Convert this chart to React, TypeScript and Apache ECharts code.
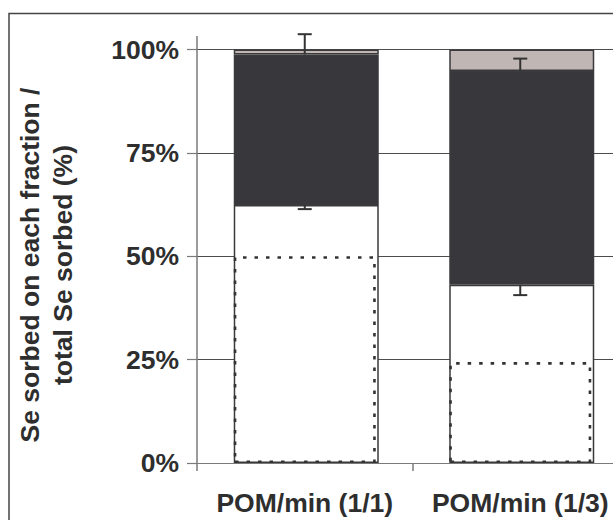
import React, { useEffect, useRef } from "react";
import * as echarts from "echarts";

const categories = ["POM/min (1/1)", "POM/min (1/3)"];
const mineralShare = [62.4, 43.1];
const pomShare = [36.4, 51.7];
const remainderShare = [1.2, 5.2];
const mineralErrMinus = [1.0, 2.5];
const pomErrPlus = [4.9, 3.0];
const expectedMineral = [50, 24.4];
const yMin = 0;
const yMax = 100;
const yStep = 25;
const axisTitle = ["Se sorbed on each fraction /", "total Se sorbed (%)"];

const FONT = "'Liberation Sans', Arial, Helvetica, sans-serif";
const TEXT = "#2e2e2e";
const AXIS = "#7a7a7a";
const EDGE = "#3a3a3c";

export default function App() {
  const ref = useRef<HTMLDivElement>(null);

  useEffect(() => {
    if (!ref.current) return;
    const chart = echarts.init(ref.current, undefined, { renderer: "svg" });

    const errData: number[][] = [];
    categories.forEach((_, i) => {
      const wTop = mineralShare[i];
      errData.push([i, wTop, wTop - mineralErrMinus[i]]);
      const dTop = mineralShare[i] + pomShare[i];
      errData.push([i, dTop, dTop + pomErrPlus[i]]);
    });

    const barW = 145;

    chart.setOption({
      animation: false,
      grid: {
        left: 197,
        top: 49.5,
        width: 431,
        height: 413.5,
        outerBoundsMode: "none",
        containLabel: false,
      },
      xAxis: {
        type: "category",
        data: categories,
        boundaryGap: true,
        axisLine: { show: true, lineStyle: { color: AXIS, width: 1.2 } },
        axisTick: { show: true, length: 8, lineStyle: { color: AXIS, width: 1.5 } },
        axisLabel: {
          interval: 0,
          margin: 26,
          color: TEXT,
          fontFamily: FONT,
          fontWeight: "bold",
          fontSize: 26.5,
          hideOverlap: false,
        },
        splitLine: { show: false },
      },
      yAxis: {
        type: "value",
        min: yMin,
        max: yMax,
        interval: yStep,
        axisLine: { show: true, lineStyle: { color: AXIS, width: 1.5 } },
        axisTick: { show: true, length: 10, lineStyle: { color: AXIS, width: 1.2 } },
        axisLabel: {
          margin: 18,
          color: TEXT,
          fontFamily: FONT,
          fontWeight: "bold",
          fontSize: 26.5,
          formatter: (v: number) => `${v}%`,
        },
        splitLine: { show: true, lineStyle: { color: "#4d4d4d", width: 1 } },
      },
      graphic: [
        {
          type: "rect",
          shape: { x: 9, y: 13.5, width: 900, height: 900 },
          style: { fill: "none", stroke: "#444444", lineWidth: 1.5 },
          silent: true,
          z: -10,
        },
        {
          type: "line",
          shape: { x1: 197, y1: 36, x2: 197, y2: 50 },
          style: { stroke: AXIS, lineWidth: 1.5 },
          silent: true,
        },
        {
          type: "text",
          x: 46,
          y: 265,
          rotation: Math.PI / 2,
          style: {
            text: axisTitle.join("\n"),
            fontFamily: FONT,
            fontWeight: "bold",
            fontSize: 26.5,
            lineHeight: 33,
            fill: TEXT,
            align: "center",
            verticalAlign: "middle",
          },
        },
      ],
      series: [
        {
          type: "bar",
          stack: "total",
          data: mineralShare,
          barWidth: barW,
          barGap: "-100%",
          itemStyle: { color: "#ffffff", borderColor: EDGE, borderWidth: 1.5 },
          z: 2,
        },
        {
          type: "bar",
          stack: "total",
          data: pomShare,
          barWidth: barW,
          itemStyle: { color: "#38373c", borderColor: EDGE, borderWidth: 1.5 },
          z: 2,
        },
        {
          type: "bar",
          stack: "total",
          data: remainderShare,
          barWidth: barW,
          itemStyle: { color: "#c0b6b3", borderColor: EDGE, borderWidth: 1.5 },
          z: 2,
        },
        {
          type: "bar",
          stack: "expected",
          data: expectedMineral,
          barWidth: barW - 3,
          barGap: "-100%",
          itemStyle: {
            color: "rgba(0,0,0,0)",
            borderColor: "#333333",
            borderWidth: 2.6,
            borderType: [3.5, 8],
          },
          z: 3,
        },
        {
          type: "custom",
          data: errData,
          clip: false,
          z: 4,
          encode: { x: 0, y: [1, 2] },
          renderItem: (params: any, api: any) => {
            const x = api.value(0);
            const a = api.value(1);
            const b = api.value(2);
            const p1 = api.coord([x, a]);
            const p2 = api.coord([x, b]);
            const st = { stroke: "#333333", lineWidth: 2 };
            return {
              type: "group",
              children: [
                { type: "line", shape: { x1: p1[0], y1: p1[1], x2: p2[0], y2: p2[1] }, style: st },
                { type: "line", shape: { x1: p2[0] - 7, y1: p2[1], x2: p2[0] + 7, y2: p2[1] }, style: st },
              ],
            };
          },
        },
      ],
    });

    return () => chart.dispose();
  }, []);

  return (
    <div
      ref={ref}
      style={{ position: "absolute", left: 0, top: 0, width: 613, height: 520, background: "#ffffff" }}
    />
  );
}
